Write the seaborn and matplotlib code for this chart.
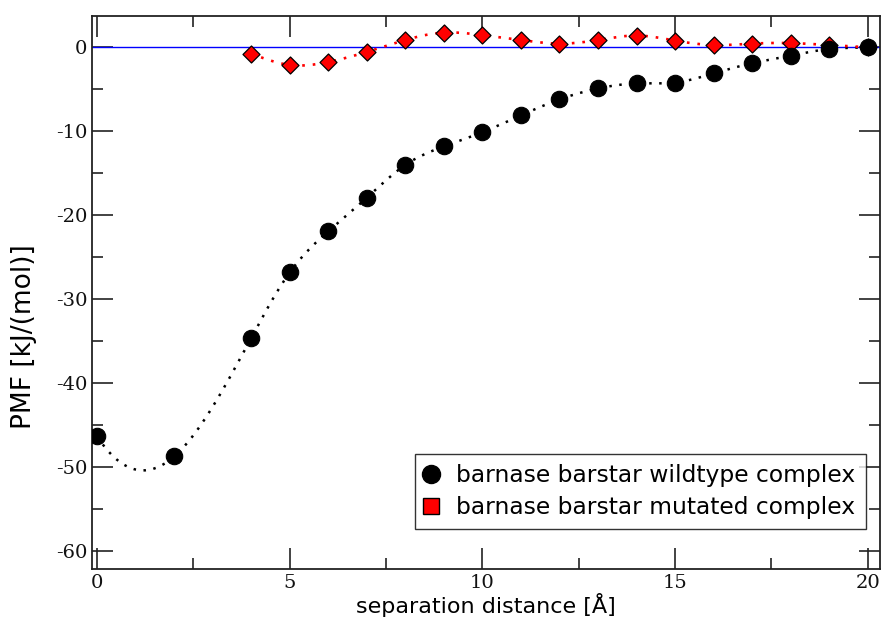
import numpy as np
import pandas as pd
import matplotlib
matplotlib.use("Agg")
import matplotlib.pyplot as plt
import seaborn as sns
from matplotlib.lines import Line2D
from matplotlib.ticker import MultipleLocator

# =========================================================
# DATA
# =========================================================

wt_dist = [0, 2, 4, 5, 6, 7, 8, 9, 10, 11, 12, 13, 14, 15, 16, 17, 18, 19, 20]
wt_pmf = [-46.3, -48.7, -34.6, -26.8, -21.9, -17.9, -14.0, -11.8, -10.1, -8.1,
          -6.2, -4.9, -4.3, -4.2, -3.1, -1.9, -1.0, -0.2, 0.0]

mut_dist = [4, 5, 6, 7, 8, 9, 10, 11, 12, 13, 14, 15, 16, 17, 18, 19, 20]
mut_pmf = [-0.75, -2.1, -1.75, -0.55, 0.87, 1.75, 1.45, 0.87, 0.44, 0.87,
           1.4, 0.8, 0.27, 0.44, 0.5, 0.27, 0.0]

legend_labels = ["barnase barstar wildtype complex",
                 "barnase barstar mutated complex"]


def cubic_spline(x, y, d0=None, d1=None, n=400):
    # cubic spline through the points (natural ends unless a slope is given)
    x = np.asarray(x, float)
    y = np.asarray(y, float)
    k = len(x)
    h = np.diff(x)
    A = np.zeros((k, k))
    b = np.zeros(k)
    if d0 is None:
        A[0, 0] = 1.0
    else:
        A[0, 0], A[0, 1] = 2 * h[0], h[0]
        b[0] = 3 * ((y[1] - y[0]) / h[0] - d0)
    if d1 is None:
        A[-1, -1] = 1.0
    else:
        A[-1, -2], A[-1, -1] = h[-1], 2 * h[-1]
        b[-1] = 3 * (d1 - (y[-1] - y[-2]) / h[-1])
    for i in range(1, k - 1):
        A[i, i - 1] = h[i - 1]
        A[i, i] = 2 * (h[i - 1] + h[i])
        A[i, i + 1] = h[i]
        b[i] = 3 * ((y[i + 1] - y[i]) / h[i] - (y[i] - y[i - 1]) / h[i - 1])
    c = np.linalg.solve(A, b)
    xs = np.linspace(x[0], x[-1], n)
    idx = np.clip(np.searchsorted(x, xs) - 1, 0, k - 2)
    dx = xs - x[idx]
    bb = (y[idx + 1] - y[idx]) / h[idx] - h[idx] * (2 * c[idx] + c[idx + 1]) / 3
    dd = (c[idx + 1] - c[idx]) / (3 * h[idx])
    ys = y[idx] + bb * dx + c[idx] * dx ** 2 + dd * dx ** 3
    return xs, ys


wt_df = pd.DataFrame({"dist": wt_dist, "pmf": wt_pmf})
mut_df = pd.DataFrame({"dist": mut_dist, "pmf": mut_pmf})

# =========================================================
# PLOT
# =========================================================

sns.set_style("ticks")
plt.rcParams["font.family"] = ["DejaVu Sans"]
plt.rcParams["axes.unicode_minus"] = False
plt.rcParams["text.color"] = "black"
plt.rcParams["axes.labelcolor"] = "black"
plt.rcParams["xtick.labelcolor"] = "#111111"
plt.rcParams["ytick.labelcolor"] = "#111111"

fig, ax = plt.subplots(figsize=(8.85, 6.24), dpi=100)
fig.subplots_adjust(left=0.104, right=0.994, top=0.974, bottom=0.088)

ax.axhline(0, color="#0000ff", lw=1.0, zorder=1)

sx, sy = cubic_spline(wt_dist, wt_pmf, d0=-7.0, d1=0.2)
ax.plot(sx, sy, color="black", ls=(0, (1, 3)), lw=1.8, zorder=2)
sx, sy = cubic_spline(mut_dist, mut_pmf)
ax.plot(sx, sy, color="red", ls=(0, (1, 3)), lw=1.9, zorder=2)

sns.scatterplot(data=wt_df, x="dist", y="pmf", ax=ax, marker="o", s=140,
                color="black", edgecolor="black", linewidth=0.8, zorder=4,
                legend=False)
sns.scatterplot(data=mut_df, x="dist", y="pmf", ax=ax, marker="D", s=75,
                color="red", edgecolor="black", linewidth=0.9, zorder=3,
                legend=False)

ax.set_xlim(-0.13, 20.31)
ax.set_ylim(-62.1, 3.7)
ax.xaxis.set_major_locator(MultipleLocator(5))
ax.xaxis.set_minor_locator(MultipleLocator(2.5))
ax.yaxis.set_major_locator(MultipleLocator(10))
ax.yaxis.set_minor_locator(MultipleLocator(5))
ax.tick_params(which="both", direction="in", top=True, right=True,
               color="#222222", width=1.2)
ax.tick_params(which="major", length=15)
ax.tick_params(which="minor", length=8)
for lab in ax.get_xticklabels() + ax.get_yticklabels():
    lab.set_family("DejaVu Serif")
    lab.set_fontsize(14)
for sp in ax.spines.values():
    sp.set_linewidth(1.3)
    sp.set_color("#222222")

ax.set_xlabel("separation distance [Å]", fontsize=16, labelpad=1)
ax.set_ylabel("PMF [kJ/(mol)]", fontsize=19)
ax.yaxis.set_label_coords(-0.07, 0.42)

handles = [
    Line2D([], [], marker="o", ls="none", color="black", markersize=13),
    Line2D([], [], marker="s", ls="none", markerfacecolor="red",
           markeredgecolor="black", markersize=11),
]
leg = ax.legend(handles, legend_labels, loc="lower right", fontsize=16.8,
                frameon=True, fancybox=False, edgecolor="black",
                bbox_to_anchor=(0.982, 0.072), borderaxespad=0,
                handletextpad=0.8, borderpad=0.45, labelspacing=0.36,
                handlelength=0.5)
leg.get_frame().set_linewidth(1.0)

fig.savefig("out.png", dpi=100)
